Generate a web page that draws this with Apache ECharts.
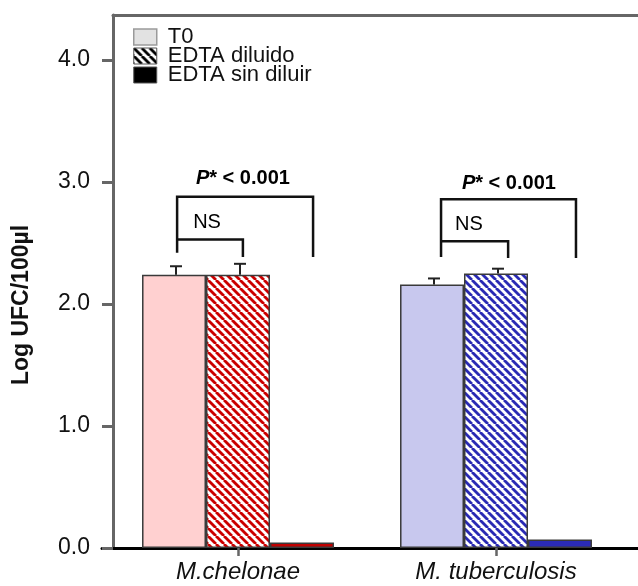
<!DOCTYPE html>
<html>
<head>
<meta charset="utf-8">
<script src="https://cdn.jsdelivr.net/npm/echarts@6/dist/echarts.min.js"></script>
<style>html,body{margin:0;padding:0;background:#fff}#c{width:638px;height:586px}</style>
</head>
<body>
<div id="c"></div>
<script>
// ---- data ----
const categories = ['M.chelonae', 'M. tuberculosis'];
const seriesNames = ['T0', 'EDTA diluido', 'EDTA sin diluir'];
const t0Values = [2.24, 2.16];
const dilValues = [2.24, 2.25];
const sinValues = [0.045, 0.07];
const t0Err = [0.07, 0.05];
const dilErr = [0.09, 0.04];
const yTicks = [0, 1, 2, 3, 4];
const pLabel = 'P* < 0.001';
const nsLabel = 'NS';

// ---- annotation layout (fractions of category band, value units) ----
const brLeft = [-0.236, -0.213];
const brMid = [0.019, 0.047];
const brRight = [0.291, 0.310];
const brTop = [2.88, 2.86];
const brNs = [2.53, 2.516];
const brLegL = [2.42, 2.385];
const brLegM = [2.385, 2.377];
const brLegR = [2.385, 2.377];
const pTextPos = [[0.019, 3.03], [0.05, 2.99]];
const nsTextPos = [[-0.12, 2.67], [-0.105, 2.65]];

const Y_MAX = 4.37;
const BAR_CAT_GAP = 0.256;

function hatch(color) {
  const s = 8;
  const c = document.createElement('canvas');
  c.width = s; c.height = s;
  const g = c.getContext('2d');
  g.fillStyle = '#ffffff';
  g.fillRect(0, 0, s, s);
  g.strokeStyle = color;
  g.lineWidth = 2.8;
  for (const x of [-s, 0, s]) {
    g.beginPath();
    g.moveTo(x, 0);
    g.lineTo(x + s, s);
    g.stroke();
  }
  return { image: c, repeat: 'repeat' };
}

const t0Colors = ['#ffd0d0', '#c8c8ee'];
const dilColors = [hatch('#cc0000'), hatch('#2a2ab4')];
const sinColors = ['#c00000', '#2b2bb8'];
const border = { borderColor: '#3a3a3a', borderWidth: 1.5 };

function barData(vals, cols) {
  return vals.map((v, i) => ({ value: v, itemStyle: Object.assign({ color: cols[i] }, border) }));
}

const errData = [];
t0Values.forEach((v, i) => errData.push([i, 0, v, t0Err[i]]));
dilValues.forEach((v, i) => errData.push([i, 1, v, dilErr[i]]));

const brData = categories.map((c, i) => [i, brTop[i]]);

const chart = echarts.init(document.getElementById('c'), null, { renderer: 'canvas' });

const axisTextColor = '#111';
const option = {
  animation: false,
  backgroundColor: '#fff',
  textStyle: { fontFamily: 'Liberation Sans, Arial, sans-serif' },
  grid: [
    { left: 109, right: 13, top: 15, bottom: 38 },
    { left: 102, right: 0, top: 15, bottom: 38 },
    { left: 113, right: 0, top: 15, bottom: 38 }
  ],
  xAxis: [
    {
      type: 'category', gridIndex: 0, data: categories,
      axisLine: { show: false },
      axisTick: { show: true, alignWithLabel: true, length: 8, lineStyle: { color: '#666', width: 2.5 } },
      axisLabel: { fontSize: 24, fontStyle: 'italic', color: axisTextColor, margin: 12 },
      splitLine: { show: false }
    },
    {
      type: 'value', gridIndex: 1, min: 0, max: 1,
      axisLine: { show: true, onZero: false, lineStyle: { color: '#000', width: 3 } },
      axisTick: { show: false }, axisLabel: { show: false }, splitLine: { show: false }
    },
    {
      type: 'value', gridIndex: 2, min: 0, max: 1, position: 'top',
      axisLine: { show: true, onZero: false, lineStyle: { color: '#666', width: 3 } },
      axisTick: { show: false }, axisLabel: { show: false }, splitLine: { show: false }
    }
  ],
  yAxis: [
    { type: 'value', gridIndex: 0, min: 0, max: Y_MAX, show: false, splitLine: { show: false } },
    { type: 'value', gridIndex: 1, min: 0, max: 1, show: false, splitLine: { show: false } },
    {
      type: 'value', gridIndex: 2, min: 0, max: Y_MAX,
      name: 'Log UFC/100µl', nameLocation: 'middle', nameGap: 80,
      nameTextStyle: { fontSize: 23, fontWeight: 'bold', color: axisTextColor, padding: [0, 47, 0, 0] },
      axisLine: { show: true, onZero: false, lineStyle: { color: '#666', width: 3 } },
      axisTick: { show: true, length: 11, customValues: yTicks, lineStyle: { color: '#666', width: 3 } },
      axisLabel: { show: true, customValues: yTicks, fontSize: 23, color: axisTextColor, margin: 23,
        formatter: v => Number(v).toFixed(1) },
      splitLine: { show: false }
    }
  ],
  legend: {
    orient: 'vertical', left: 133, top: 26, padding: 0,
    itemWidth: 23, itemHeight: 16, itemGap: -3,
    selectedMode: false,
    icon: 'rect',
    textStyle: { fontSize: 22, color: '#111', padding: [0, 0, 0, 6] },
    data: [
      { name: seriesNames[0], itemStyle: { color: '#e2e2e2', borderColor: '#9a9a9a', borderWidth: 1.5 } },
      { name: seriesNames[1], itemStyle: { color: hatch('#000'), borderColor: '#555', borderWidth: 1 } },
      { name: seriesNames[2], itemStyle: { color: '#000', borderColor: '#555', borderWidth: 1 } }
    ]
  },
  series: [
    { name: seriesNames[0], type: 'bar', xAxisIndex: 0, yAxisIndex: 0, barGap: '0%',
      barCategoryGap: (BAR_CAT_GAP * 100) + '%', data: barData(t0Values, t0Colors) },
    { name: seriesNames[1], type: 'bar', xAxisIndex: 0, yAxisIndex: 0, barGap: '0%',
      barCategoryGap: (BAR_CAT_GAP * 100) + '%', data: barData(dilValues, dilColors) },
    { name: seriesNames[2], type: 'bar', xAxisIndex: 0, yAxisIndex: 0, barGap: '0%',
      barCategoryGap: (BAR_CAT_GAP * 100) + '%', data: barData(sinValues, sinColors) },
    {
      type: 'custom', name: 'err', xAxisIndex: 0, yAxisIndex: 0, z: 5,
      data: errData, encode: { x: 0, y: 2 },
      renderItem: function (params, api) {
        const cat = api.value(0), k = api.value(1), v = api.value(2), e = api.value(3);
        const band = api.size([1, 0])[0];
        const bw = band * (1 - BAR_CAT_GAP) / 3;
        const p0 = api.coord([cat, v]);
        const p1 = api.coord([cat, v + e]);
        const x = p0[0] + (k - 1) * bw + 2;
        const hw = bw * 0.094;
        const st = { stroke: '#222', lineWidth: 2 };
        return { type: 'group', children: [
          { type: 'line', shape: { x1: x, y1: p0[1], x2: x, y2: p1[1] }, style: st },
          { type: 'line', shape: { x1: x - hw, y1: p1[1], x2: x + hw, y2: p1[1] }, style: st }
        ]};
      }
    },
    {
      type: 'custom', name: 'brackets', xAxisIndex: 0, yAxisIndex: 0, z: 6,
      data: brData, encode: { x: 0, y: 1 },
      renderItem: function (params, api) {
        const i = params.dataIndex;
        const cat = api.value(0);
        const band = api.size([1, 0])[0];
        const cx = api.coord([cat, 0])[0];
        const X = f => cx + f * band;
        const Y = v => api.coord([cat, v])[1];
        const st = { stroke: '#111', lineWidth: 2.5, fill: null };
        const xl = X(brLeft[i]), xm = X(brMid[i]), xr = X(brRight[i]);
        return { type: 'group', children: [
          { type: 'polyline', shape: { points: [[xl, Y(brLegL[i])], [xl, Y(brTop[i])], [xr, Y(brTop[i])], [xr, Y(brLegR[i])]] }, style: st },
          { type: 'polyline', shape: { points: [[xl, Y(brNs[i])], [xm, Y(brNs[i])], [xm, Y(brLegM[i])]] }, style: st },
          { type: 'text', style: {
              x: X(pTextPos[i][0]), y: Y(pTextPos[i][1]), align: 'center', verticalAlign: 'middle',
              text: '{i|P}{b|' + pLabel.slice(1) + '}',
              rich: {
                i: { fontStyle: 'italic', fontWeight: 'bold', fontSize: 20, fill: '#000', fontFamily: 'Liberation Sans, Arial' },
                b: { fontWeight: 'bold', fontSize: 20, fill: '#000', fontFamily: 'Liberation Sans, Arial' }
              }
          }},
          { type: 'text', style: {
              x: X(nsTextPos[i][0]), y: Y(nsTextPos[i][1]), align: 'center', verticalAlign: 'middle',
              text: nsLabel, fontSize: 20, fill: '#000', fontFamily: 'Liberation Sans, Arial'
          }}
        ]};
      }
    }
  ]
};
chart.setOption(option);
</script>
</body>
</html>
